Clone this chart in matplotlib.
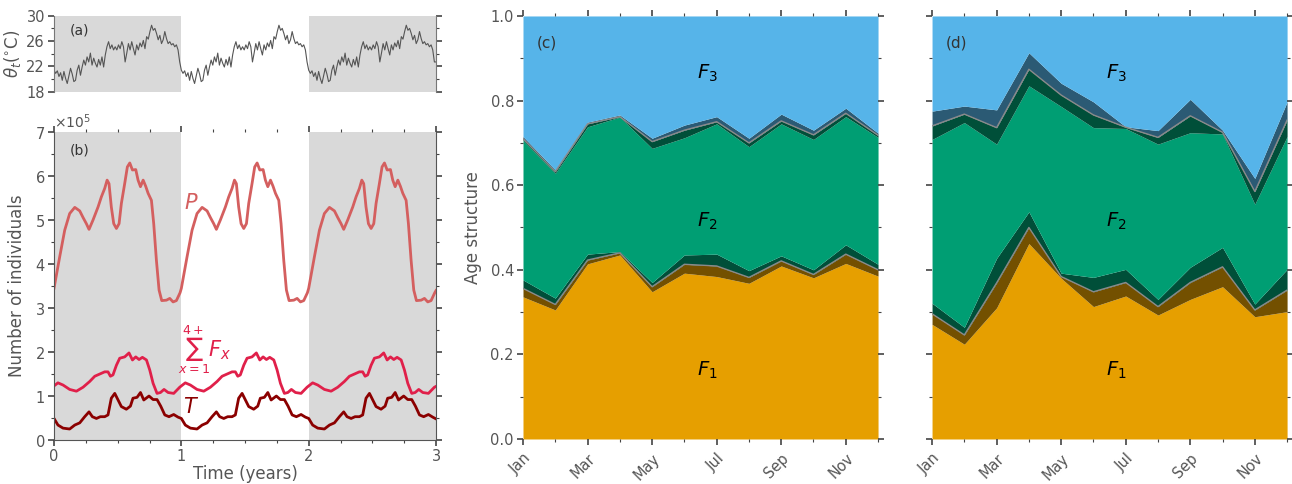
import numpy as np
import matplotlib
matplotlib.use("Agg")
import matplotlib.pyplot as plt
from matplotlib.ticker import MultipleLocator, FixedLocator, NullFormatter, ScalarFormatter

plt.rcParams['font.family'] = ['DejaVu Sans']
plt.rcParams['mathtext.fontset'] = 'dejavusans'

# ---- panel (a): temperature over one year (repeats each year) ----
temp_year = [21.4, 20.9, 21.3, 20.4, 21.0, 19.8, 21.2, 20.1, 19.3, 20.5,
             21.7, 20.8, 19.6, 19.8, 21.4, 22.2, 20.6, 21.9, 23.0, 22.2,
             23.5, 22.7, 24.1, 22.2, 23.3, 22.5, 21.9, 23.1, 22.2, 23.5,
             21.9, 23.8, 25.1, 25.9, 24.8, 25.4, 24.6, 25.1, 24.6, 25.4,
             24.8, 25.9, 25.1, 22.7, 24.1, 25.6, 24.6, 25.9, 24.8, 23.8,
             25.4, 24.6, 25.7, 25.1, 26.1, 24.8, 26.7, 26.3, 27.5, 28.5,
             27.7, 28.0, 27.2, 26.2, 26.9, 25.6, 26.2, 27.5, 26.4, 25.6,
             25.9, 25.4, 25.6, 25.1, 25.4, 24.6, 22.7]

# ---- panel (b): populations (x1e5) over one year ----
p_t = [0.0, 0.045, 0.084, 0.123, 0.163, 0.202, 0.228, 0.254, 0.275, 0.306,
       0.346, 0.372, 0.398, 0.417, 0.432, 0.45, 0.469, 0.49, 0.511, 0.529,
       0.555, 0.576, 0.595, 0.616, 0.642, 0.66, 0.679, 0.70, 0.72, 0.739,
       0.765, 0.783, 0.804, 0.825, 0.846, 0.883, 0.909, 0.935, 0.961, 0.99]
p_val = [3.45, 4.17, 4.77, 5.15, 5.29, 5.21, 5.06, 4.92, 4.79, 5.00,
         5.30, 5.53, 5.72, 5.91, 5.83, 5.30, 4.92, 4.81, 4.92, 5.38,
         5.83, 6.21, 6.30, 6.14, 6.15, 5.91, 5.76, 5.91, 5.77, 5.61,
         5.45, 4.92, 4.09, 3.41, 3.17, 3.18, 3.22, 3.14, 3.17, 3.35]

f_t = [0.0, 0.031, 0.071, 0.123, 0.176, 0.228, 0.28, 0.32, 0.359, 0.398,
       0.424, 0.443, 0.463, 0.49, 0.516, 0.555, 0.589, 0.616, 0.642, 0.668,
       0.694, 0.726, 0.752, 0.778, 0.809, 0.836, 0.864, 0.896, 0.94, 0.987]
f_val = [1.23, 1.30, 1.25, 1.15, 1.11, 1.20, 1.33, 1.45, 1.50, 1.55,
         1.55, 1.45, 1.48, 1.70, 1.86, 1.89, 1.98, 1.82, 1.89, 1.83,
         1.88, 1.82, 1.59, 1.29, 1.06, 1.08, 1.15, 1.08, 1.06, 1.20]

tt_t = [0.0, 0.031, 0.071, 0.123, 0.163, 0.202, 0.241, 0.275, 0.301, 0.333,
        0.364, 0.398, 0.424, 0.45, 0.477, 0.503, 0.529, 0.568, 0.60, 0.62,
        0.652, 0.679, 0.705, 0.746, 0.778, 0.809, 0.838, 0.87, 0.903, 0.94,
        0.974]
tt_val = [0.49, 0.34, 0.27, 0.25, 0.34, 0.39, 0.53, 0.64, 0.53, 0.49,
          0.53, 0.53, 0.57, 0.95, 1.06, 0.91, 0.76, 0.70, 0.77, 0.95,
          0.97, 1.08, 0.91, 1.00, 0.92, 0.92, 0.77, 0.57, 0.53, 0.58,
          0.52]

# ---- panels (c) and (d): age structure by month ----
months = ['Jan', 'Feb', 'Mar', 'Apr', 'May', 'Jun', 'Jul', 'Aug', 'Sep', 'Oct', 'Nov', 'Dec']

c_f1_lo = [0.336, 0.305, 0.414, 0.435, 0.348, 0.392, 0.384, 0.368, 0.409, 0.381, 0.415, 0.385]
c_f1_mid = [0.356, 0.318, 0.423, 0.440, 0.360, 0.413, 0.409, 0.382, 0.421, 0.389, 0.437, 0.400]
c_f1_hi = [0.376, 0.333, 0.437, 0.443, 0.370, 0.435, 0.437, 0.398, 0.433, 0.400, 0.459, 0.413]
c_f12_lo = [0.706, 0.628, 0.738, 0.761, 0.687, 0.712, 0.745, 0.691, 0.745, 0.708, 0.762, 0.713]
c_f12_mid = [0.710, 0.632, 0.745, 0.762, 0.703, 0.730, 0.750, 0.700, 0.752, 0.719, 0.770, 0.718]
c_f12_hi = [0.715, 0.636, 0.749, 0.766, 0.711, 0.742, 0.762, 0.711, 0.768, 0.730, 0.782, 0.723]

d_f1_lo = [0.271, 0.224, 0.310, 0.462, 0.380, 0.313, 0.338, 0.293, 0.330, 0.360, 0.289, 0.301]
d_f1_mid = [0.296, 0.246, 0.369, 0.500, 0.384, 0.348, 0.370, 0.313, 0.370, 0.407, 0.305, 0.352]
d_f1_hi = [0.321, 0.264, 0.427, 0.537, 0.392, 0.382, 0.401, 0.330, 0.406, 0.453, 0.319, 0.401]
d_f12_lo = [0.708, 0.748, 0.697, 0.835, 0.786, 0.736, 0.734, 0.697, 0.724, 0.721, 0.555, 0.715]
d_f12_mid = [0.740, 0.768, 0.736, 0.874, 0.813, 0.766, 0.737, 0.713, 0.764, 0.725, 0.585, 0.754]
d_f12_hi = [0.775, 0.787, 0.778, 0.913, 0.841, 0.797, 0.738, 0.729, 0.803, 0.730, 0.616, 0.797]

n_years = 3
tick_col = '#444444'
label_col = '#555555'
shade = '#d9d9d9'


def tile(ts, vals, final):
    t_all = np.concatenate([np.array(ts) + k for k in range(n_years)] + [[n_years]])
    v_all = np.concatenate([np.array(vals)] * n_years + [[final]])
    return t_all, v_all


def style_ticks(ax):
    ax.tick_params(which='both', direction='out', colors=tick_col,
                   labelcolor=label_col, top=True, right=True)
    ax.tick_params(which='major', length=4.5, width=1.2, labelsize=10.5, pad=2)
    ax.tick_params(which='minor', length=2.5, width=0.8)


fig = plt.figure(figsize=(12.92, 4.84), dpi=100)

# (a)
ax_a = fig.add_axes([0.0418, 0.8105, 0.2957, 0.157])
n_t = len(temp_year)
t_a = np.arange(n_t * n_years + 1) / n_t
v_a = np.array(temp_year * n_years + [temp_year[-1]])
for k in range(0, n_years, 2):
    ax_a.axvspan(k, k + 1, color=shade, lw=0)
ax_a.plot(t_a, v_a, color='#555555', lw=0.8)
ax_a.set_xlim(0, 3)
ax_a.set_ylim(18, 30)
ax_a.yaxis.set_major_locator(FixedLocator([18, 22, 26, 30]))
ax_a.yaxis.set_minor_locator(FixedLocator([20, 24, 28]))
style_ticks(ax_a)
ax_a.tick_params(axis='x', which='both', bottom=False, top=False, labelbottom=False)
for s in ['top', 'bottom']:
    ax_a.spines[s].set_visible(False)
for s in ['left', 'right']:
    ax_a.spines[s].set_color('#777777')
ax_a.set_ylabel(r'$\theta_t(^{\circ}\mathrm{C})$', fontsize=12, color=label_col, labelpad=2)
ax_a.text(0.068, 0.81, '(a)', transform=ax_a.transAxes, fontsize=10, color='#333333',
          ha='center', va='center')

# (b)
ax_b = fig.add_axes([0.0418, 0.0909, 0.2957, 0.636])
for k in range(0, n_years, 2):
    ax_b.axvspan(k, k + 1, color=shade, lw=0)
tp, vp = tile(p_t, p_val, 3.4)
tf, vf = tile(f_t, f_val, 1.22)
tT, vT = tile(tt_t, tt_val, 0.48)
ax_b.plot(tp, vp * 1e5, color='#d45f5f', lw=2)
ax_b.plot(tf, vf * 1e5, color='#e0204a', lw=2)
ax_b.plot(tT, vT * 1e5, color='#8b0000', lw=2)
ax_b.set_xlim(0, 3)
ax_b.set_ylim(0, 7e5)
ax_b.xaxis.set_major_locator(MultipleLocator(1))
ax_b.xaxis.set_minor_locator(MultipleLocator(0.25))
ax_b.yaxis.set_major_locator(MultipleLocator(1e5))
ax_b.yaxis.set_minor_locator(MultipleLocator(0.5e5))
fmt = ScalarFormatter(useMathText=True)
fmt.set_powerlimits((0, 0))
ax_b.yaxis.set_major_formatter(fmt)
ax_b.yaxis.get_offset_text().set_color(label_col)
ax_b.yaxis.get_offset_text().set_fontsize(10)
style_ticks(ax_b)
ax_b.spines['top'].set_visible(False)
for s in ['left', 'right', 'bottom']:
    ax_b.spines[s].set_color('#555555')
ax_b.set_xlabel('Time (years)', fontsize=12, color=label_col, labelpad=1)
ax_b.set_ylabel('Number of individuals', fontsize=12, color=label_col, labelpad=6)
ax_b.text(0.068, 0.94, '(b)', transform=ax_b.transAxes, fontsize=10, color='#333333',
          ha='center', va='center')
ax_b.text(1.08, 5.38e5, r'$P$', color='#d45f5f', fontsize=15, ha='center', va='center')
ax_b.text(1.10, 2.05e5, r'$\sum_{x=1}^{4+}$', color='#e0204a', fontsize=13, ha='center', va='center')
ax_b.text(1.30, 2.05e5, r'$F_x$', color='#e0204a', fontsize=15, ha='center', va='center')
ax_b.text(1.08, 0.76e5, r'$T$', color='#8b0000', fontsize=15, ha='center', va='center')

# (c) and (d)
c_blue = '#56b4e9'
c_navy = '#2b5a74'
c_green = '#009e73'
c_dgreen = '#004f39'
c_orange = '#e69f00'
c_brown = '#735000'

x_m = np.arange(len(months))


def age_panel(ax, lo1, mid1, hi1, lo2, mid2, hi2, letter, ylabels):
    lo1, mid1, hi1 = np.array(lo1), np.array(mid1), np.array(hi1)
    lo2, mid2, hi2 = np.array(lo2), np.array(mid2), np.array(hi2)
    ax.fill_between(x_m, 0, lo1, color=c_orange, lw=0)
    ax.fill_between(x_m, lo1, mid1, color=c_brown, lw=0)
    ax.fill_between(x_m, mid1, hi1, color=c_dgreen, lw=0)
    ax.fill_between(x_m, hi1, lo2, color=c_green, lw=0)
    ax.fill_between(x_m, lo2, mid2, color=c_dgreen, lw=0)
    ax.fill_between(x_m, mid2, hi2, color=c_navy, lw=0)
    ax.fill_between(x_m, hi2, 1, color=c_blue, lw=0)
    ax.plot(x_m, mid1, color='#8a8a8a', lw=1)
    ax.plot(x_m, mid2, color='#8a8a8a', lw=1)
    ax.set_xlim(0, len(months) - 1)
    ax.set_ylim(0, 1)
    ax.set_xticks(x_m[::2])
    ax.set_xticklabels(months[::2], rotation=45, ha='right', rotation_mode='anchor')
    ax.xaxis.set_minor_locator(FixedLocator(x_m[1::2]))
    ax.yaxis.set_major_locator(MultipleLocator(0.2))
    ax.yaxis.set_minor_locator(MultipleLocator(0.1))
    ax.yaxis.set_major_formatter(plt.FormatStrFormatter('%.1f'))
    style_ticks(ax)
    ax.tick_params(axis='x', labelsize=10.5, pad=4)
    if not ylabels:
        ax.yaxis.set_major_formatter(NullFormatter())
    for s in ax.spines.values():
        s.set_visible(False)
    ax.text(0.75, 0.937, letter, fontsize=11, color='#333333', ha='center', va='center')
    ax.text(5.7, 0.865, r'$F_3$', fontsize=14, ha='center', va='center')
    ax.text(5.7, 0.514, r'$F_2$', fontsize=14, ha='center', va='center')
    ax.text(5.7, 0.163, r'$F_1$', fontsize=14, ha='center', va='center')


ax_c = fig.add_axes([0.4048, 0.093, 0.2748, 0.874])
age_panel(ax_c, c_f1_lo, c_f1_mid, c_f1_hi, c_f12_lo, c_f12_mid, c_f12_hi, '(c)', True)
ax_c.set_ylabel('Age structure', fontsize=12, color=label_col, labelpad=6)

ax_d = fig.add_axes([0.7214, 0.093, 0.2748, 0.874])
age_panel(ax_d, d_f1_lo, d_f1_mid, d_f1_hi, d_f12_lo, d_f12_mid, d_f12_hi, '(d)', False)

fig.savefig('out.png', dpi=100)
